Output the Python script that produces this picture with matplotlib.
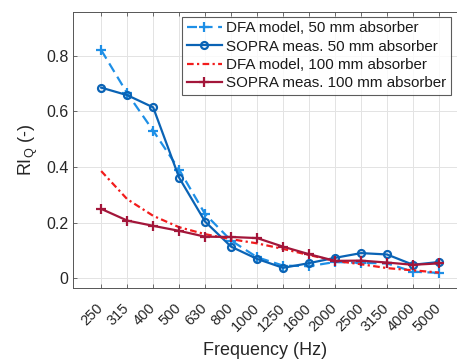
import numpy as np
from matplotlib import pyplot as plt

plt.rcParams["font.family"] = ["Liberation Sans", "DejaVu Sans"]

freqs = ["250", "315", "400", "500", "630", "800", "1000", "1250",
         "1600", "2000", "2500", "3150", "4000", "5000"]
dfa_50 = [0.82, 0.665, 0.53, 0.39, 0.23, 0.135, 0.075, 0.045,
          0.043, 0.058, 0.055, 0.053, 0.023, 0.019]
sopra_50 = [0.685, 0.658, 0.614, 0.361, 0.203, 0.113, 0.069, 0.037,
            0.054, 0.073, 0.09, 0.085, 0.048, 0.058]
dfa_100 = [0.385, 0.284, 0.224, 0.183, 0.158, 0.14, 0.125, 0.105,
           0.083, 0.062, 0.05, 0.036, 0.028, 0.02]
sopra_100 = [0.249, 0.207, 0.188, 0.17, 0.149, 0.148, 0.144, 0.113,
             0.086, 0.062, 0.063, 0.056, 0.048, 0.053]

txt = "#262626"
x = np.arange(len(freqs))

fig = plt.figure(figsize=(4.57, 3.63), dpi=100)
ax = fig.add_axes([0.16, 0.207, 0.84, 0.76])

ax.plot(x, dfa_50, linestyle=(0, (4.5, 2.5)), color="#1E8FE6", lw=1.6,
        marker="+", ms=7, mew=1.6, label="DFA model, 50 mm absorber")
ax.plot(x, sopra_50, "-", color="#0A63B5", lw=1.6,
        marker="o", ms=5, mew=1.6, mfc="none", label="SOPRA meas. 50 mm absorber")
ax.plot(x, dfa_100, linestyle=(0, (3, 1.5, 1, 1.5)), color="#F21C1C", lw=1.6,
        label="DFA model, 100 mm absorber")
ax.plot(x, sopra_100, "-", color="#A3163A", lw=1.6,
        marker="+", ms=7, mew=1.6, label="SOPRA meas. 100 mm absorber")

ax.set_xlim(-1.08, 13.69)
ax.set_ylim(-0.035, 0.957)
ax.set_xticks(x)
ax.set_xticklabels(freqs, rotation=45, ha="right", va="center",
                   rotation_mode="anchor", fontsize=10.5, color=txt)
ax.set_yticks([0, 0.2, 0.4, 0.6, 0.8])
ax.set_yticklabels(["0", "0.2", "0.4", "0.6", "0.8"], fontsize=11.5, color=txt)
ax.tick_params(direction="in", length=3, top=True, color="#555555", width=0.6)
ax.tick_params(axis="x", pad=13)
ax.grid(True, color="#e3e3e3", lw=0.7)
ax.set_axisbelow(True)
for side in ["left", "bottom", "top"]:
    ax.spines[side].set_color("#555555")
    ax.spines[side].set_linewidth(0.7)
ax.spines["right"].set_visible(False)

ax.set_xlabel("Frequency (Hz)", fontsize=13, color=txt, labelpad=6)
ax.set_ylabel(r"$\mathregular{RI_Q}$ (-)", fontsize=13, color=txt, labelpad=4)

leg = ax.legend(loc="upper right", bbox_to_anchor=(0.992, 0.993), fontsize=10.9,
                frameon=True, fancybox=False, edgecolor="#333333",
                handlelength=2.3, handletextpad=0.3, borderpad=0.3,
                labelspacing=0.28, borderaxespad=0.2)
leg.get_frame().set_linewidth(0.8)
for t in leg.get_texts():
    t.set_color("#1a1a1a")

fig.savefig("out.png", dpi=100)
